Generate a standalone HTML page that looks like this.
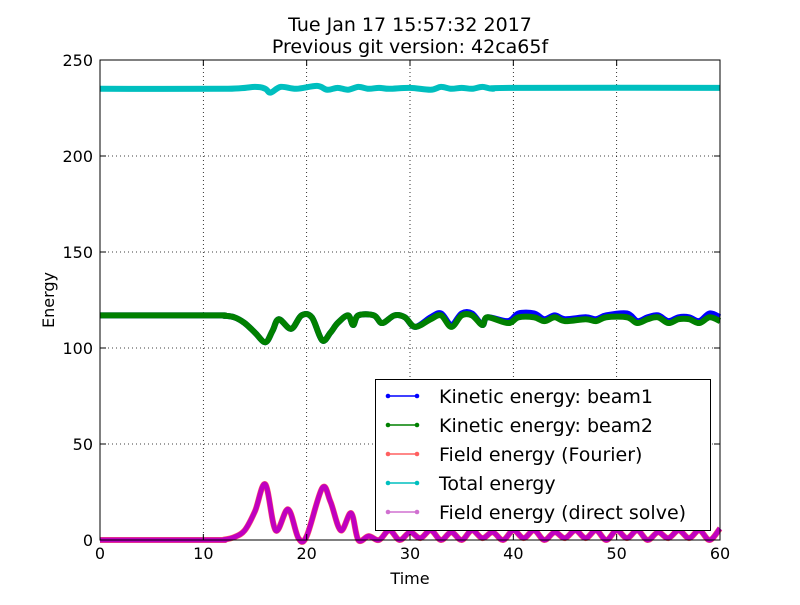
<!DOCTYPE html>
<html><head><meta charset="utf-8"><style>
body{margin:0;background:#fff}
svg text{font-family:"DejaVu Sans","Liberation Sans",sans-serif;fill:#000}
</style></head><body>
<svg id="c" width="800" height="600">
<rect width="800" height="600" fill="#fff"/>
<text x="410" y="31" font-size="19" text-anchor="middle">Tue Jan 17 15:57:32 2017</text>
<text x="410" y="53" font-size="19" text-anchor="middle">Previous git version: 42ca65f</text>
<g id="grid"></g>
<g id="series"></g>
<rect x="100" y="60" width="620" height="480" fill="none" stroke="#000" stroke-width="1"/>
<g id="ticks"></g>
<text x="410" y="584" font-size="16" text-anchor="middle">Time</text>
<text transform="translate(54,300) rotate(-90)" font-size="16" text-anchor="middle">Energy</text>
<g id="legend">
<rect x="375.5" y="379.5" width="335" height="151" fill="#fff" stroke="#000"/>
</g>
</svg>
<script>
const xTicks=[0,10,20,30,40,50,60];
const yTicks=[0,50,100,150,200,250];
const legendLabels=["Kinetic energy: beam1","Kinetic energy: beam2","Field energy (Fourier)","Total energy","Field energy (direct solve)"];
const legendColors=["#0000ff","#008000","#ff6060","#00bfbf","#d070d0"];
const beam2T=[0,11,12,13,14,15,16,16.7,17.3,18.5,19.5,20.5,21.5,22.3,23,24,24.5,25,26.5,27.3,28.5,29.5,30.5,32,33,34,35,36,37,37.5,39.5,40.5,42,43,44,45,47,48,49,51,52,53,54,55,56,57,58,59,60];
const beam2V=[117,117,116.8,116,113,108,103,109,115,110,117,116,104,108,113,117,112,117,117,113,117,116,111,115,117,111,117,117,112,116,113,116,116,114,116,114,115,114,116,116,113,115,116,113,115,115,113,116,114];
const beam1T=beam2T;
const beam1V=[117,117,116.8,116,113,108,103,109,115,110,117,116,104,108,113,117,112,117,117,113,117,116,111,116,118,112,118,118,112,116,114,118,118,115,117,115,116,115,117,118,114,116,117,114,116,116,114,118,116];
const fieldT=[0,11,12,13,14,15,16,17,18.2,19.2,20,21.5,22.3,23.3,24.3,25,26,27,28,29,30,31,32,33,34,35,36,37,38,39,40,41,42,43,44,45,46,47,48,49,50,51,52,53,54,55,56,57,58,59,60];
const fieldV=[0,0,0.2,1.5,5,15,29,5,16,1,2,27,20,5,14,0,2,0,5,0,4,1,5,0,4,0,5,1,4,0,5,1,5,0,4,1,5,1,5,0,5,1,5,0,4,1,5,1,5,0,6];
const totalT=[0,12,15,16,16.5,17.5,19,21,22,23,24,25,26,27,28,30,32,33,34,35,36,37,38,40,60];
const totalV=[235,235,236,235,233,236,235,236.5,234.5,235.5,234.5,236,235,235.5,235,235.5,234.5,236,235,235.5,235,236,235,235.5,235.5];
const X=t=>100+t/60*620, Y=v=>540-v/250*480;
const NS="http://www.w3.org/2000/svg";
function mk(tag,attrs,parent){const e=document.createElementNS(NS,tag);for(const k in attrs)e.setAttribute(k,attrs[k]);parent.appendChild(e);return e;}
const grid=document.getElementById('grid'),ticks=document.getElementById('ticks'),ser=document.getElementById('series'),leg=document.getElementById('legend');
xTicks.forEach(t=>{
 const g=mk('line',{x1:X(t),x2:X(t),y1:60,y2:540,stroke:'#000','stroke-dasharray':'1,3','stroke-width':0.8},grid);
 
 
 mk('line',{x1:X(t),x2:X(t),y1:540,y2:534,stroke:'#000'},ticks);
 mk('line',{x1:X(t),x2:X(t),y1:60,y2:66,stroke:'#000'},ticks);
 const l=mk('text',{x:X(t),y:559,'font-size':16,'text-anchor':'middle'},ticks);l.textContent=t;
 
 
});
yTicks.forEach(v=>{
 const g=mk('line',{x1:100,x2:720,y1:Y(v),y2:Y(v),stroke:'#000','stroke-dasharray':'1,3','stroke-width':0.8},grid);
 
 
 mk('line',{x1:100,x2:106,y1:Y(v),y2:Y(v),stroke:'#000'},ticks);
 mk('line',{x1:714,x2:720,y1:Y(v),y2:Y(v),stroke:'#000'},ticks);
 const l=mk('text',{x:93,y:Y(v)+6,'font-size':16,'text-anchor':'end'},ticks);l.textContent=v;
 
 
});
function path(T,V){
 const p=T.map((t,i)=>[X(t),Y(V[i])]);let d='M'+p[0];
 for(let i=0;i<p.length-1;i++){const p0=p[Math.max(0,i-1)],p1=p[i],p2=p[i+1],p3=p[Math.min(p.length-1,i+2)];
  const c1=[p1[0]+(p2[0]-p0[0])/6,p1[1]+(p2[1]-p0[1])/6],c2=[p2[0]-(p3[0]-p1[0])/6,p2[1]-(p3[1]-p1[1])/6];
  d+=' C'+c1+' '+c2+' '+p2;}
 return d;
}
const s1=mk('path',{d:path(beam1T,beam1V),fill:'none',stroke:'#0000ff','stroke-width':6,'stroke-linejoin':'round'},ser);


const s2=mk('path',{d:path(beam2T,beam2V),fill:'none',stroke:'#008000','stroke-width':6,'stroke-linejoin':'round'},ser);


const s3=mk('path',{d:path(totalT,totalV),fill:'none',stroke:'#00bfbf','stroke-width':6,'stroke-linejoin':'round'},ser);


const s4=mk('path',{d:path(fieldT,fieldV),fill:'none',stroke:'#ff6060','stroke-width':6,'stroke-linejoin':'round'},ser);


const s5=mk('path',{d:path(fieldT,fieldV),fill:'none',stroke:'#c000c0','stroke-width':5,'stroke-linejoin':'round'},ser);


legendLabels.forEach((lab,i)=>{
 const y=396+i*29;
 mk('line',{x1:387,x2:418,y1:y,y2:y,stroke:legendColors[i],'stroke-width':1.5},leg);
 mk('circle',{cx:388,cy:y,r:2.3,fill:legendColors[i]},leg);
 mk('circle',{cx:417,cy:y,r:2.3,fill:legendColors[i]},leg);
 const t=mk('text',{x:439,y:y+7,'font-size':19},leg);t.textContent=lab;
 
 
});
</script>
</body></html>
